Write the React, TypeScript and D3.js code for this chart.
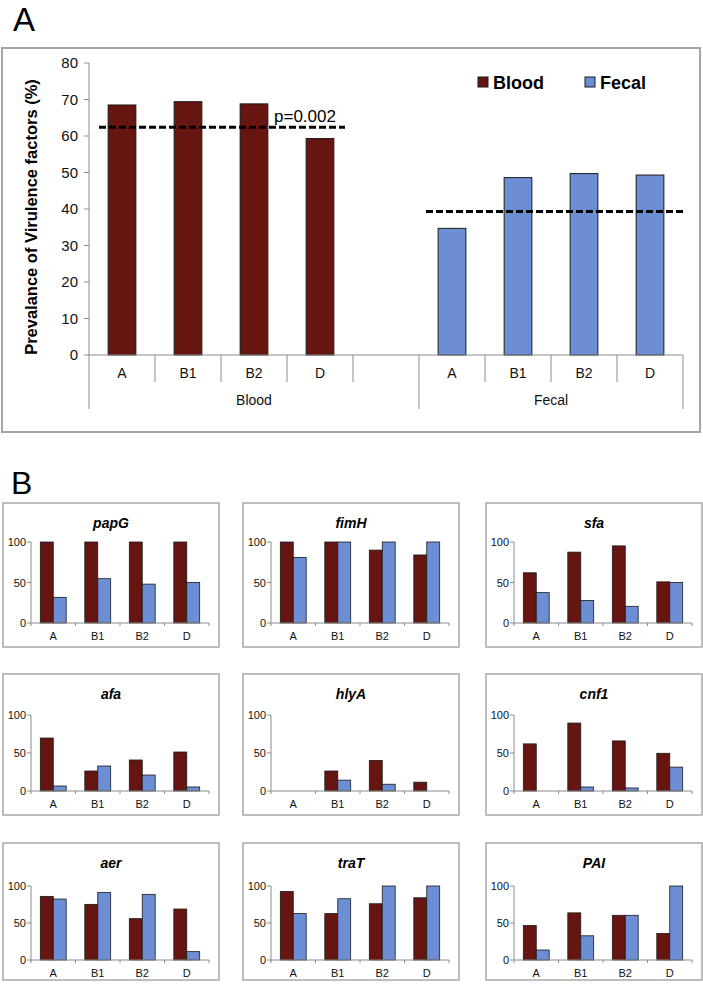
import React from 'react';
import * as d3 from 'd3';

// ---------- Panel A data ----------
const phylogroups = ['A', 'B1', 'B2', 'D'];
const sources = ['Blood', 'Fecal'];
const bloodPrev = [68.5, 69.4, 68.8, 59.3];
const fecalPrev = [34.7, 48.6, 49.7, 49.3];
const meanPrev = [62.4, 39.3];
const yTicksA = [0, 10, 20, 30, 40, 50, 60, 70, 80];
const pLabel = 'p=0.002';
const yTitleA = 'Prevalance of Virulence factors (%)';

// ---------- Panel B data ----------
const genes = ['papG', 'fimH', 'sfa', 'afa', 'hlyA', 'cnf1', 'aer', 'traT', 'PAI'];
const bloodByGene = [
  [100, 100, 100, 100],
  [100, 100, 90, 84],
  [62, 87.5, 95.2, 50.8],
  [69.7, 26.3, 40.8, 51.3],
  [0, 26.3, 40.2, 11.6],
  [62, 89.4, 65.9, 49.6],
  [86, 75.2, 55.9, 68.9],
  [92.7, 62.7, 76, 84.1],
  [46.5, 63.7, 60.4, 35.9],
];
const fecalByGene = [
  [31.7, 54.7, 48, 50],
  [80.8, 100, 100, 100],
  [37.5, 27.8, 20.6, 50],
  [6.6, 32.9, 21, 5.3],
  [0, 14.3, 8.9, 0],
  [0, 5.3, 4, 31.4],
  [82.4, 91.4, 88.7, 11.3],
  [62.7, 82.8, 100, 100],
  [13.5, 32.7, 60.4, 100],
];
const yTicksB = [0, 50, 100];

const BLOOD = '#661511';
const FECAL = '#6c8ed4';
const FONT = '"Liberation Sans", Arial, Helvetica, sans-serif';

function PanelA() {
  const keys = [
    ...phylogroups.map((p) => 'Blood-' + p),
    'gap',
    ...phylogroups.map((p) => 'Fecal-' + p),
  ];
  const x = d3.scaleBand<string>().domain(keys).range([89, 683]).padding(0);
  const y = d3.scaleLinear().domain([0, 80]).range([355, 63]);
  const bw = x.bandwidth();
  const barW = bw * 0.42;
  const groupBounds = [x('Blood-A')!, x('Fecal-A')!, x.range()[1]];
  const bars = [
    ...phylogroups.map((p, i) => ({ key: 'Blood-' + p, v: bloodPrev[i], c: BLOOD })),
    ...phylogroups.map((p, i) => ({ key: 'Fecal-' + p, v: fecalPrev[i], c: FECAL })),
  ];
  const dashLines = [
    { x1: x('Blood-A')! + 10, x2: x('Blood-D')! + bw - 8, v: meanPrev[0] },
    { x1: x('Fecal-A')! + 7, x2: x('Fecal-D')! + bw, v: meanPrev[1] },
  ];
  return (
    <g fontFamily={FONT}>
      <text x={13} y={31} fontSize={33} fill="#000">A</text>
      <rect x={2} y={48} width={698} height={384} fill="#fff" stroke="#a6a6a6" strokeWidth={2} />
      {/* y axis */}
      <line x1={89} x2={89} y1={y(80)} y2={y(0)} stroke="#8c8c8c" />
      {yTicksA.map((t) => (
        <g key={t}>
          <line x1={84} x2={89} y1={y(t)} y2={y(t)} stroke="#8c8c8c" />
          <text x={78} y={y(t) + 5} fontSize={15} textAnchor="end" fill="#111">{t}</text>
        </g>
      ))}
      <text
        transform={`translate(37, ${(y(0) + y(80)) / 2 + 8}) rotate(-90)`}
        fontSize={16.5}
        fontWeight="bold"
        textAnchor="middle"
        fill="#000"
      >
        {yTitleA}
      </text>
      {/* bars */}
      {bars.map((b) => (
        <rect
          key={b.key}
          x={x(b.key)! + (bw - barW) / 2}
          y={y(b.v)}
          width={barW}
          height={y(0) - y(b.v)}
          fill={b.c}
          stroke="#1a1a1a"
          strokeWidth={1}
        />
      ))}
      {/* x axis */}
      <line x1={89} x2={683} y1={y(0)} y2={y(0)} stroke="#8c8c8c" />
      {keys.map((k) => {
        const xs = x(k)!;
        const isGroup = groupBounds.includes(xs);
        return <line key={'s' + k} x1={xs} x2={xs} y1={y(0)} y2={isGroup ? 409 : 382} stroke="#8c8c8c" />;
      })}
      <line x1={683} x2={683} y1={y(0)} y2={409} stroke="#8c8c8c" />
      {keys.map((k) =>
        k === 'gap' ? null : (
          <text key={'l' + k} x={x(k)! + bw / 2} y={378} fontSize={14} textAnchor="middle" fill="#111">
            {k.split('-')[1]}
          </text>
        )
      )}
      {sources.map((s, i) => (
        <text key={s} x={(groupBounds[i] + groupBounds[i + 1]) / 2} y={405} fontSize={14} textAnchor="middle" fill="#111">
          {s}
        </text>
      ))}
      {/* dashed mean lines */}
      {dashLines.map((d, i) => (
        <line key={i} x1={d.x1} x2={d.x2} y1={y(d.v)} y2={y(d.v)} stroke="#000" strokeWidth={3} strokeDasharray="7,3" />
      ))}
      <text x={274} y={122} fontSize={17} fill="#000">{pLabel}</text>
      {/* legend */}
      {sources.map((s, i) => (
        <g key={'lg' + s}>
          <rect x={478 + i * 107} y={77} width={10} height={10} fill={i === 0 ? BLOOD : FECAL} stroke="#1a1a1a" strokeWidth={1} />
          <text x={493 + i * 107} y={89} fontSize={18} fontWeight="bold" fill="#000">{s}</text>
        </g>
      ))}
    </g>
  );
}

const colLefts = [3, 243, 486];
const rowTops = [503, 674, 843];
const rowHeights = [144, 141, 137];
const rowY100 = [39, 41, 43];
const rowY0 = [120, 117, 117];

function SmallPanel({ idx }: { idx: number }) {
  const col = idx % 3;
  const row = Math.floor(idx / 3);
  const left = colLefts[col];
  const top = rowTops[row];
  const w = 216;
  const h = rowHeights[row];
  const ax0 = left + 28;
  const ax1 = left + 206;
  const y = d3.scaleLinear().domain([0, 100]).range([top + rowY0[row], top + rowY100[row]]);
  const x = d3.scaleBand<string>().domain(phylogroups).range([ax0, ax1]).padding(0);
  const inner = d3.scaleBand<string>().domain(sources).range([0, x.bandwidth()]).paddingInner(0).paddingOuter(0.72);
  const vals = [bloodByGene[idx], fecalByGene[idx]];
  return (
    <g fontFamily={FONT}>
      <rect x={left} y={top} width={w} height={h} fill="#fff" stroke="#a8a8a8" strokeWidth={1.5} />
      <text x={left + w / 2} y={top + 25} fontSize={14} fontWeight="bold" fontStyle="italic" textAnchor="middle" fill="#000">
        {genes[idx]}
      </text>
      <line x1={ax0} x2={ax0} y1={y(100)} y2={y(0)} stroke="#8c8c8c" />
      {yTicksB.map((t) => (
        <g key={t}>
          <line x1={ax0 - 4} x2={ax0} y1={y(t)} y2={y(t)} stroke="#8c8c8c" />
          <text x={ax0 - 5} y={y(t) + 4} fontSize={11} textAnchor="end" fill="#111">{t}</text>
        </g>
      ))}
      {phylogroups.map((p, i) =>
        sources.map((s, j) => {
          const v = vals[j][i];
          if (v <= 0) return null;
          return (
            <rect
              key={p + s}
              x={x(p)! + inner(s)!}
              y={y(v)}
              width={inner.bandwidth()}
              height={y(0) - y(v)}
              fill={j === 0 ? BLOOD : FECAL}
              stroke="#1a1a1a"
              strokeWidth={0.8}
            />
          );
        })
      )}
      <line x1={ax0} x2={ax1} y1={y(0)} y2={y(0)} stroke="#8c8c8c" />
      {[...phylogroups.map((p) => x(p)!), ax1].map((xs, i) => (
        <line key={'t' + i} x1={xs} x2={xs} y1={y(0)} y2={y(0) + 3} stroke="#8c8c8c" />
      ))}
      {phylogroups.map((p) => (
        <text key={'c' + p} x={x(p)! + x.bandwidth() / 2} y={y(0) + 17} fontSize={11} textAnchor="middle" fill="#111">
          {p}
        </text>
      ))}
    </g>
  );
}

export default function App() {
  return (
    <svg
      width={703}
      height={988}
      viewBox="0 0 703 988"
      style={{ position: 'absolute', left: 0, top: 0, display: 'block', background: '#fff' }}
    >
      <rect x={0} y={0} width={703} height={988} fill="#fff" />
      <PanelA />
      <text x={11} y={494} fontSize={32} fontFamily={FONT} fill="#000">B</text>
      {genes.map((g, i) => (
        <SmallPanel key={g} idx={i} />
      ))}
    </svg>
  );
}
